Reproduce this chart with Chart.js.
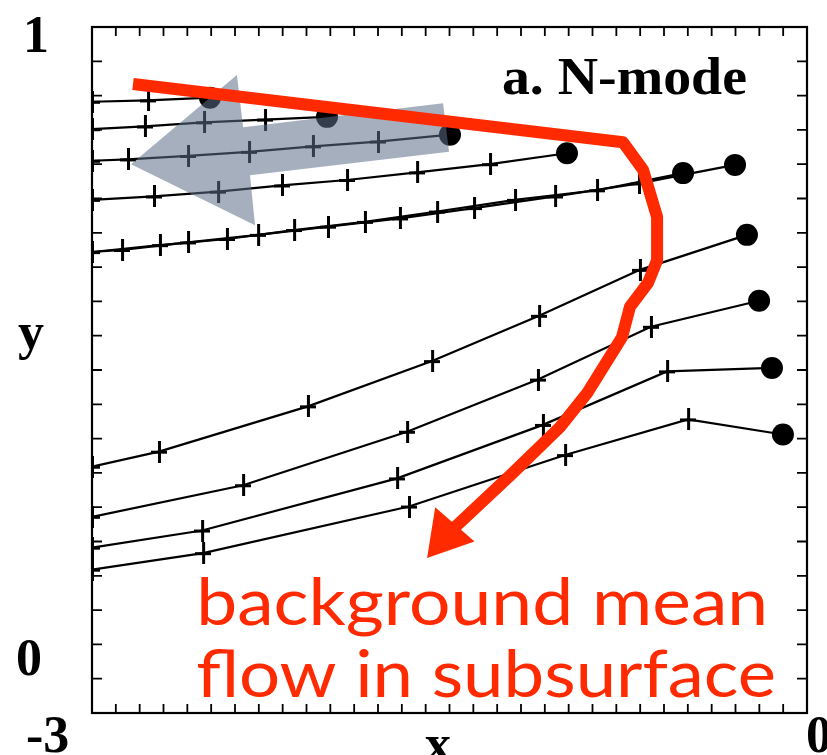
<!DOCTYPE html>
<html>
<head>
<meta charset="utf-8">
<title>N-mode</title>
<script src="https://cdn.jsdelivr.net/npm/chart.js@4.4.1/dist/chart.umd.min.js"></script>
<style>
  html, body { margin: 0; padding: 0; background: #fff; }
  canvas { display: block; }
</style>
</head>
<body>
<canvas id="nmode" width="827" height="755"></canvas>
<script>
// trajectories, left edge to the final position (dot)
const track1X = [-3, -2.765, -2.505];
const track1Y = [0.891, 0.893, 0.897];
const track2X = [-3, -2.778, -2.530, -2.274, -2.014];
const track2Y = [0.851, 0.855, 0.861, 0.865, 0.869];
const track3X = [-3, -2.849, -2.597, -2.341, -2.073, -1.800, -1.498];
const track3Y = [0.805, 0.807, 0.812, 0.818, 0.826, 0.833, 0.843];
const track4X = [-3, -2.740, -2.471, -2.203, -1.930, -1.636, -1.330, -1.007];
const track4Y = [0.748, 0.753, 0.760, 0.769, 0.777, 0.788, 0.800, 0.816];
const track5X = [-3, -2.715, -2.434, -2.152, -1.855, -1.552, -1.225, -0.881, -0.520];
const track5Y = [0.672, 0.682, 0.691, 0.704, 0.716, 0.731, 0.748, 0.762, 0.787];
const track6X = [-3, -2.874, -2.597, -2.303, -2.010, -1.708, -1.397, -1.057, -0.705, -0.302];
const track6Y = [0.672, 0.675, 0.686, 0.697, 0.709, 0.721, 0.736, 0.753, 0.772, 0.799];
const track7X = [-3, -2.719, -2.094, -1.573, -1.124, -0.701, -0.252];
const track7Y = [0.359, 0.381, 0.447, 0.513, 0.579, 0.646, 0.697];
const track8X = [-3, -2.366, -1.678, -1.129, -0.655, -0.201];
const track8Y = [0.286, 0.332, 0.410, 0.486, 0.563, 0.601];
const track9X = [-3, -2.538, -1.720, -1.108, -0.587, -0.147];
const track9Y = [0.241, 0.266, 0.342, 0.420, 0.498, 0.503];
const track10X = [-3, -2.534, -1.670, -1.015, -0.499, -0.101];
const track10Y = [0.209, 0.233, 0.301, 0.376, 0.428, 0.406];

const xTickLabels = ['-3', '0'];
const yTickLabels = ['0', '1'];
const panelTitle = 'a. N-mode';
const xTitle = 'x';
const yTitle = 'y';
const noteLines = ['background mean', 'flow in subsurface'];

// overlay arrows, in data units
const flowX = [-2.828, -0.772, -0.688, -0.629, -0.629, -0.667, -0.743, -0.776, -0.923, -1.036, -1.234, -1.489];
const flowY = [0.917, 0.832, 0.792, 0.723, 0.660, 0.627, 0.592, 0.548, 0.466, 0.417, 0.350, 0.267];
const flowHeadX = [-1.560, -1.594, -1.395];
const flowHeadY = [0.300, 0.226, 0.250];
const westX = [-2.836, -2.392, -2.366, -1.527, -1.502, -2.337, -2.316];
const westY = [0.800, 0.930, 0.854, 0.889, 0.818, 0.784, 0.711];

const tracksX = [track1X, track2X, track3X, track4X, track5X, track6X, track7X, track8X, track9X, track10X];
const tracksY = [track1Y, track2Y, track3Y, track4Y, track5Y, track6Y, track7Y, track8Y, track9Y, track10Y];

// "+" marker, a bit taller than wide
const plus = document.createElement('canvas');
plus.width = 16; plus.height = 22;
(function () {
  const c = plus.getContext('2d');
  c.fillStyle = '#000';
  c.fillRect(7, 0, 3, 22);
  c.fillRect(0, 10, 16, 3);
})();

const datasets = tracksX.map((xs, i) => {
  const ys = tracksY[i];
  const last = xs.length - 1;
  return {
    data: xs.map((x, j) => ({ x: x, y: ys[j] })),
    borderColor: '#000',
    borderWidth: 2.2,
    tension: 0,
    fill: false,
    pointStyle: xs.map((x, j) => j === last ? 'circle' : plus),
    pointRadius: xs.map((x, j) => j === last ? 11 : 8),
    pointBackgroundColor: '#000',
    pointBorderColor: '#000',
    pointBorderWidth: 0
  };
});

// draw text stretched or squeezed to a given width
function fitText(ctx, text, left, base, width) {
  const w = ctx.measureText(text).width;
  ctx.save();
  ctx.translate(left, base);
  ctx.scale(width / w, 1);
  ctx.fillText(text, 0, 0);
  ctx.restore();
}

const frame = {
  id: 'frame',
  afterDatasetsDraw(chart) {
    const { ctx, chartArea: a, scales: { x, y } } = chart;
    const px = (v) => x.getPixelForValue(v);
    const py = (v) => y.getPixelForValue(v);
    ctx.save();

    // westward arrow (translucent)
    ctx.fillStyle = 'rgba(91,109,136,0.55)';
    ctx.beginPath();
    westX.forEach((v, i) => i ? ctx.lineTo(px(v), py(westY[i])) : ctx.moveTo(px(v), py(westY[i])));
    ctx.closePath();
    ctx.fill();

    // mean flow arrow
    ctx.strokeStyle = '#ff2a00';
    ctx.fillStyle = '#ff2a00';
    ctx.lineWidth = 12;
    ctx.lineJoin = 'round';
    ctx.beginPath();
    flowX.forEach((v, i) => i ? ctx.lineTo(px(v), py(flowY[i])) : ctx.moveTo(px(v), py(flowY[i])));
    ctx.stroke();
    ctx.beginPath();
    flowHeadX.forEach((v, i) => i ? ctx.lineTo(px(v), py(flowHeadY[i])) : ctx.moveTo(px(v), py(flowHeadY[i])));
    ctx.closePath();
    ctx.fill();

    // frame and inward ticks
    ctx.strokeStyle = '#000';
    ctx.lineWidth = 2.2;
    ctx.lineJoin = 'miter';
    ctx.strokeRect(a.left, a.top, a.right - a.left, a.bottom - a.top);
    ctx.lineWidth = 1.8;
    ctx.beginPath();
    for (let k = 1; k < 30; k++) {
      const tx = px(-3 + k * 0.1);
      ctx.moveTo(tx, a.bottom); ctx.lineTo(tx, a.bottom - 9);
      ctx.moveTo(tx, a.top); ctx.lineTo(tx, a.top + 9);
    }
    for (let k = 1; k < 20; k++) {
      const ty = py(k * 0.05);
      ctx.moveTo(a.left, ty); ctx.lineTo(a.left + 10, ty);
      ctx.moveTo(a.right, ty); ctx.lineTo(a.right - 10, ty);
    }
    ctx.stroke();

    // labels
    ctx.fillStyle = '#000';
    ctx.textBaseline = 'alphabetic';
    ctx.textAlign = 'left';
    ctx.font = 'bold 52px "Liberation Serif", serif';
    ctx.fillText(yTickLabels[1], a.left - 69, a.top + 25);
    ctx.fillText(yTickLabels[0], a.left - 76, py(0) - 38);
    ctx.fillText(xTickLabels[0], px(-3) - 66, a.bottom + 39);
    ctx.fillText(xTickLabels[1], px(0) - 1, a.bottom + 39);
    ctx.fillText(yTitle, a.left - 74, py(0.53));
    ctx.fillText(xTitle, px(-1.603), a.bottom + 48);
    ctx.font = 'bold 53px "Liberation Serif", serif';
    fitText(ctx, panelTitle, px(-1.280), a.top + 67, 245);

    ctx.fillStyle = '#ff2a00';
    ctx.font = '66px Lato, sans-serif';
    fitText(ctx, noteLines[0], px(-2.563), a.bottom - 88, 572);
    fitText(ctx, noteLines[1], px(-2.563), a.bottom - 16, 580);
    ctx.restore();
  }
};

new Chart(document.getElementById('nmode'), {
  type: 'line',
  data: { datasets: datasets },
  options: {
    responsive: false,
    animation: false,
    events: [],
    layout: { padding: { left: 92, top: 27, right: 20, bottom: 42 } },
    plugins: { legend: { display: false }, tooltip: { enabled: false } },
    scales: {
      x: { type: 'linear', min: -3, max: 0, display: false },
      y: { type: 'linear', min: 0, max: 1, display: false }
    }
  },
  plugins: [frame]
});
</script>
</body>
</html>
